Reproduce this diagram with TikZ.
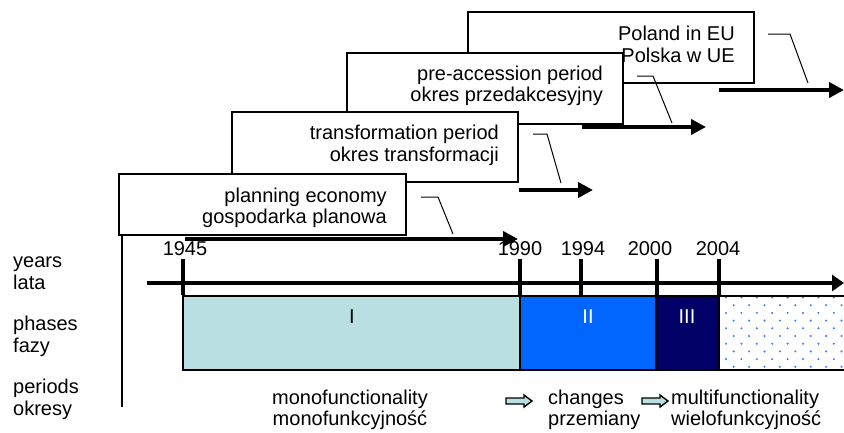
\documentclass[tikz,border=0pt]{standalone}
\usepackage{fontspec}
\setmainfont{Liberation Sans}
\usetikzlibrary{arrows.meta}
\definecolor{phaseone}{HTML}{B9DFE3}
\definecolor{phasetwo}{HTML}{0066FF}
\definecolor{phasethree}{HTML}{000066}
\definecolor{dotblue}{HTML}{2F7FFF}
\begin{document}
\begin{tikzpicture}[x=1pt,y=-1pt,font=\fontsize{20}{22}\selectfont,
  periodbox/.style={draw,line width=1.5pt,fill=white,inner sep=0pt,anchor=north west},
  txt/.style={inner sep=0pt},
  callout/.style={line width=1pt},
  thickarrow/.style={line width=4pt,-{Triangle[length=15pt,width=15pt]}},
  tick/.style={line width=4pt},
  phase/.style={draw,line width=1.5pt},
  hollow/.style={draw,line width=1.4pt,fill=phaseone}]
\useasboundingbox (0,0) rectangle (844,432);
% period boxes (back to front)
\node[periodbox,minimum width=286pt,minimum height=71pt] (b4) at (467,11) {};
\node[periodbox,minimum width=276pt,minimum height=71pt] (b3) at (346,52) {};
\node[periodbox,minimum width=286pt,minimum height=70pt] (b2) at (231,111) {};
\node[periodbox,minimum width=287pt,minimum height=61pt] (b1) at (118,173) {};
% box texts
\node[txt,anchor=base east] (t4a) at (735,40) {Poland in EU};
\node[txt,anchor=base east] (t4b) at (735,62) {Polska w UE};
\node[txt,anchor=base east] (t3a) at (603,80) {pre-accession period};
\node[txt,anchor=base east] (t3b) at (603,101) {okres przedakcesyjny};
\node[txt,anchor=base east] (t2a) at (499,139) {transformation period};
\node[txt,anchor=base east] (t2b) at (499,161) {okres transformacji};
\node[txt,anchor=base east] (t1a) at (387,202) {planning economy};
\node[txt,anchor=base east] (t1b) at (387,223) {gospodarka planowa};
% callouts
\coordinate (c1a) at (421,197); \coordinate (c1b) at (438,197); \coordinate (c1c) at (453,234);
\coordinate (c2a) at (533,134); \coordinate (c2b) at (547,134); \coordinate (c2c) at (561,183);
\coordinate (c3a) at (637,76);  \coordinate (c3b) at (653,76);  \coordinate (c3c) at (672,123);
\coordinate (c4a) at (768,34);  \coordinate (c4b) at (790,34);  \coordinate (c4c) at (808,83);
\draw[callout] (c1a) -- (c1b) -- (c1c);
\draw[callout] (c2a) -- (c2b) -- (c2c);
\draw[callout] (c3a) -- (c3b) -- (c3c);
\draw[callout] (c4a) -- (c4b) -- (c4c);
% period arrows
\coordinate (a1s) at (185,239); \coordinate (a1e) at (518,239);
\coordinate (a2s) at (519,190); \coordinate (a2e) at (593,190);
\coordinate (a3s) at (582,127); \coordinate (a3e) at (706,127);
\coordinate (a4s) at (719,90);  \coordinate (a4e) at (844,90);
\draw[thickarrow] (a1s) -- (a1e);
\draw[thickarrow] (a2s) -- (a2e);
\draw[thickarrow] (a3s) -- (a3e);
\draw[thickarrow] (a4s) -- (a4e);
% vertical separator
\coordinate (v0) at (122,235); \coordinate (v1) at (122,407);
\draw[line width=1.2pt] (v0) -- (v1);
% row labels
\node[txt,anchor=base west] (ly1) at (13,267) {years};
\node[txt,anchor=base west] (ly2) at (13,289) {lata};
\node[txt,anchor=base west] (lp1) at (13,330) {phases};
\node[txt,anchor=base west] (lp2) at (13,352) {fazy};
\node[txt,anchor=base west] (lo1) at (13,393) {periods};
\node[txt,anchor=base west] (lo2) at (13,415) {okresy};
% phases
\fill[phaseone] (183,296) rectangle (520,370);
\fill[phasetwo] (520,296) rectangle (656,370);
\fill[phasethree] (656,296) rectangle (719,370);
\foreach \k in {0,...,9}{
  \foreach \i in {0,...,8}{
    \pgfmathsetmacro{\dx}{726+15.4*\i+7.7*mod(\k,2)}
    \pgfmathsetmacro{\dy}{297.5+7.7*\k}
    \fill[dotblue] (\dx,\dy) circle (1.15pt);
  }
}
\draw[phase] (844,296) -- (183,296) -- (183,370) -- (844,370);
\draw[phase] (520,296) -- (520,370);
\draw[phase] (656,296) -- (656,370);
\draw[phase] (719,296) -- (719,370);
\node[txt,anchor=base] (p1) at (352,323) {I};
\node[txt,anchor=base,text=white] (p2) at (588,323) {II};
\node[txt,anchor=base,text=white] (p3) at (687,323) {III};
% timeline
\coordinate (tl0) at (147,283); \coordinate (tl1) at (844,283);
\draw[line width=4.5pt,-{Triangle[length=12pt,width=16pt]}] (tl0) -- (tl1);
\foreach \x/\n in {183/k1,520/k2,581/k3,657/k4,719/k5}{
  \coordinate (\n t) at (\x,259); \coordinate (\n b) at (\x,295);
  \draw[tick] (\n t) -- (\n b);
}
\node[txt,anchor=base] (y1) at (185,255) {1945};
\node[txt,anchor=base] (y2) at (520,255) {1990};
\node[txt,anchor=base] (y3) at (583,255) {1994};
\node[txt,anchor=base] (y4) at (650,255) {2000};
\node[txt,anchor=base] (y5) at (718,255) {2004};
% periods
\node[txt,anchor=base] (m1) at (350,404) {monofunctionality};
\node[txt,anchor=base] (m2) at (350,425) {monofunkcyjność};
\node[txt,anchor=base west] (ch1) at (548,404) {changes};
\node[txt,anchor=base west] (ch2) at (548,425) {przemiany};
\node[txt,anchor=base west] (mu1) at (671,404) {multifunctionality};
\node[txt,anchor=base west] (mu2) at (671,425) {wielofunkcyjność};
\draw[hollow] (506,398) -- (524,398) -- (524,395) -- (532,401) -- (524,407) -- (524,404) -- (506,404) -- cycle;
\draw[hollow] (642,398) -- (660,398) -- (660,395) -- (668,401) -- (660,407) -- (660,404) -- (642,404) -- cycle;
\end{tikzpicture}
\end{document}
